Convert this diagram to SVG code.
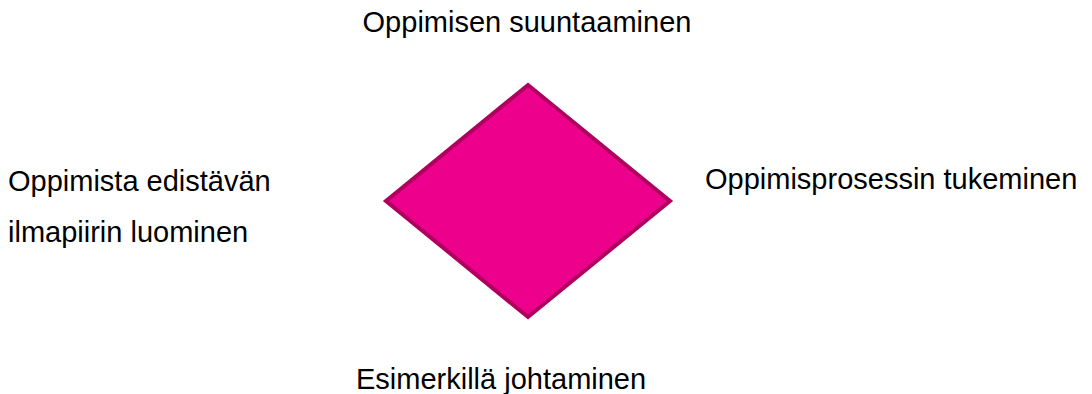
<svg xmlns="http://www.w3.org/2000/svg" width="1092" height="394" viewBox="0 0 1092 394">
<style>
.t{font-family:"Liberation Sans",Arial,sans-serif;font-size:29px;fill:#000}
.d{fill:#EC008C;stroke:#B0005F;stroke-width:4;stroke-linejoin:miter}
</style>
<rect width="1092" height="394" fill="#fff"/>
<g id="center"><polygon class="d" points="528,85 670,201 528,317 386,201"/></g>
<g id="top"><text class="t" x="527" y="32" text-anchor="middle">Oppimisen suuntaaminen</text></g>
<g id="right"><text class="t" x="705" y="189">Oppimisprosessin tukeminen</text></g>
<g id="left"><text class="t" x="8" y="191">Oppimista edistävän</text><text class="t" x="8" y="242">ilmapiirin luominen</text></g>
<g id="bottom"><text class="t" x="356" y="389">Esimerkillä johtaminen</text></g>
<g id="connectors"/>
</svg>
